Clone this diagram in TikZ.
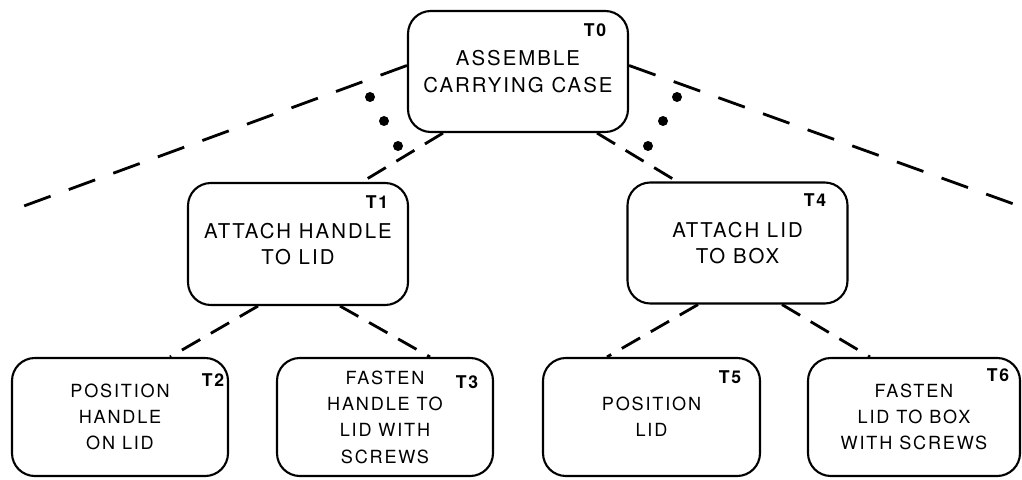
\documentclass[tikz,border=0pt]{standalone}
\usepackage{fontspec}
\newfontfamily\boxfont[LetterSpace=10]{TeX Gyre Heros}

\tikzset{
  task/.style={draw, line width=1.2pt, rounded corners=13pt, align=center,
    minimum width=4.4cm, minimum height=2.42cm,
    font=\boxfont\fontsize{11.6}{15}\selectfont},
  subtask/.style={task, minimum width=4.32cm, minimum height=2.36cm,
    font=\boxfont\fontsize{10.3}{15}\selectfont},
  tag/.style={font=\boxfont\bfseries\fontsize{10}{10}\selectfont},
  link/.style={line width=1.6pt, dash pattern=on 12pt off 7pt},
  farlink/.style={line width=1.6pt, dash pattern=on 16pt off 11pt}
}

\begin{document}
\begin{tikzpicture}

\useasboundingbox (0,0) rectangle (20.44,9.58);

% Top task
\node[task] (t0) at (10.36,8.15) {ASSEMBLE\\CARRYING CASE};
\node[tag] (t0tag) at (11.90,8.98) {T0};

% Second level
\node[task, minimum height=2.44cm] (t1) at (5.96,4.70) {ATTACH HANDLE\\TO LID};
\node[tag] (t1tag) at (7.54,5.54) {T1};

\node[task] (t4) at (14.75,4.72) {ATTACH LID\\TO BOX};
\node[tag] (t4tag) at (16.30,5.58) {T4};

% Third level
\node[subtask] (t2) at (2.40,1.24) {POSITION\\HANDLE\\ON LID};
\node[tag] (t2tag) at (4.26,1.98) {T2};

\node[subtask] (t3) at (7.70,1.24) {FASTEN\\HANDLE TO\\LID WITH\\SCREWS};
\node[tag] (t3tag) at (9.34,1.94) {T3};

\node[subtask, minimum width=4.34cm] (t5) at (13.03,1.24) {POSITION\\LID};
\node[tag] (t5tag) at (14.60,2.04) {T5};

\node[subtask, minimum width=4.24cm] (t6) at (18.28,1.24) {FASTEN\\LID TO BOX\\WITH SCREWS};
\node[tag] (t6tag) at (19.96,2.08) {T6};

% Connectors between levels
\draw[link] ([xshift=-1.5cm]t0.south) -- ([xshift=1.28cm]t1.north);
\draw[link] ([xshift=1.58cm]t0.south) -- ([xshift=-1.21cm]t4.north);
\draw[link] ([xshift=-0.8cm]t1.south) -- ([xshift=1.0cm]t2.north);
\draw[link] ([xshift=0.84cm]t1.south) -- ([xshift=0.9cm]t3.north);
\draw[link] ([xshift=-0.79cm]t4.south) -- ([xshift=-0.89cm]t5.north);
\draw[link] ([xshift=0.89cm]t4.south) -- ([xshift=-0.88cm]t6.north);

% Long lines to the rest of the tree
\coordinate (leftend) at (0.26,5.38);
\coordinate (rightend) at (20.44,5.44);
\draw[farlink] ([yshift=0.12cm]t0.west) -- (leftend);
\draw[farlink] ([yshift=0.12cm]t0.east) -- (rightend);

% Dots for the tasks left out
\fill (7.40,7.64) circle (0.1);
\fill (7.68,7.16) circle (0.1);
\fill (7.96,6.66) circle (0.1);
\fill (13.54,7.64) circle (0.1);
\fill (13.26,7.16) circle (0.1);
\fill (12.96,6.66) circle (0.1);

\end{tikzpicture}
\end{document}
